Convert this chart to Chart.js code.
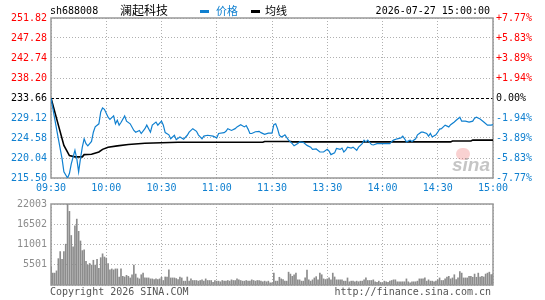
<!DOCTYPE html>
<html>
<head>
<meta charset="utf-8">
<script src="https://cdn.jsdelivr.net/npm/chart.js@4.4.1/dist/chart.umd.min.js"></script>
<style>
  body { margin: 0; background: #fff; width: 545px; height: 300px; overflow: hidden; position: relative;
         font-family: "DejaVu Sans Mono", monospace; font-size: 10px; }
  canvas { position: absolute; left: 0; }
  .t { position: absolute; white-space: nowrap; line-height: 12px; }
  .cjk { font-family: "Noto Sans CJK SC", sans-serif; }
</style>
</head>
<body>
<canvas id="price" width="545" height="196" style="top:0"></canvas>
<canvas id="vol" width="545" height="106" style="top:194px"></canvas>

<div class="t" style="left:50px;top:5px;color:#000">sh688008</div>
<div class="t cjk" style="left:120px;top:3px;font-size:12px;line-height:14px;color:#000">澜起科技</div>
<div class="t" style="left:200px;top:10px;width:9px;height:3px;background:#1080d0"></div>
<div class="t cjk" style="left:216px;top:4px;font-size:11px;line-height:13px;color:#1080d0">价格</div>
<div class="t" style="left:251px;top:10px;width:9px;height:3px;background:#000"></div>
<div class="t cjk" style="left:265px;top:4px;font-size:11px;line-height:13px;color:#000">均线</div>
<div class="t" style="right:55px;top:5px;color:#000">2026-07-27 15:00:00</div>

<div class="t" style="left:456px;top:148px;width:14px;height:12px;border-radius:7px;background:rgba(235,90,90,0.28)"></div>
<div class="t" style="left:452px;top:155px;font:italic bold 19px 'Liberation Sans',sans-serif;line-height:20px;color:rgba(150,150,150,0.55)">sina</div>

<div class="t" style="left:50px;top:286px;color:#555">Copyright 2026 SINA.COM</div>
<div class="t" style="right:54px;top:286px;color:#555">http://finance.sina.com.cn</div>

<script>
// axis labels
const timeTicks = [0, 30, 60, 90, 120, 150, 180, 210, 240];
const timeLabels = ['09:30', '10:00', '10:30', '11:00', '11:30', '13:30', '14:00', '14:30', '15:00'];
const priceTicks = [215.50, 220.04, 224.58, 229.12, 233.66, 238.20, 242.74, 247.28, 251.82];
const pctLabels = ['-7.77%', '-5.83%', '-3.89%', '-1.94%', '0.00%', '+1.94%', '+3.89%', '+5.83%', '+7.77%'];
const prevClose = 233.66;
const volTicks = [0, 5501, 11001, 16502, 22003];

// price line (minute index from 09:30, price)
const priceMinutes = [0,2,4,6,7,9,10,11,13,14,15,16,17,18,19,20,22,23,24,26,27,28,29,31,32,34,35,36,37,38,
  40,41,43,45,46,48,49,51,52,54,55,57,58,60,61,62,64,65,67,68,70,72,74,75,77,79,80,82,83,85,
  88,90,91,94,95,96,98,100,101,103,105,106,107,108,109,111,113,114,116,118,120,121,122,123,124,125,126,127,129,130,
  131,132,134,135,137,139,141,142,144,146,148,150,151,152,154,155,157,158,159,160,161,163,164,166,167,169,170,171,172,174,
  175,177,180,182,184,185,186,188,190,191,192,193,195,196,198,199,201,202,204,205,206,207,209,210,211,212,214,216,217,219,
  220,222,223,225,227,229,230,231,233,235,237,239,240];
const priceValues = [233.66,228.96,224.4,219.9,216.9,215.5,216.5,218.7,221.8,219.9,216.9,219.9,222.5,224.4,223.3,222.8,223.8,225.9,227.1,227.8,230.5,231.4,231.1,229.3,228.8,229.6,227.8,228.6,227.5,228.1,
  229.6,228.4,227.8,226.3,225.9,226.3,225.6,226.7,227.5,225.9,227.5,228.2,227.5,228.4,227.5,225.8,225.3,224.4,225.2,224.2,224.8,224.3,225.2,225.9,226.7,226.1,225.3,224.4,225.0,225.2,
  225.0,224.6,225.6,225.8,226.1,226.7,226.3,226.7,227.1,227.6,227.1,227.4,226.6,225.6,225.6,226.0,226.1,225.8,225.4,225.7,225.7,227.6,227.8,226.7,225.2,224.8,225.0,225.3,224.1,223.7,
  223.3,222.8,223.3,223.7,223.6,222.9,222.5,222.0,222.1,221.4,221.4,222.0,221.6,220.8,221.2,222.2,222.0,222.3,221.4,221.8,222.5,222.3,222.5,221.8,222.5,223.3,224.1,223.7,224.1,223.1,
  223.0,223.3,223.3,223.3,223.3,223.8,224.1,224.4,224.6,225.0,224.4,223.7,224.1,223.8,224.4,225.3,225.9,225.9,225.6,225.0,225.6,224.8,225.3,225.9,226.6,226.7,227.5,227.1,227.6,228.2,
  228.6,229.3,228.4,228.4,228.2,228.4,229.1,229.3,228.9,228.2,227.5,227.5,227.6];

// average line
const avgMinutes = [0,4,7,10,13,17,18,22,26,28,31,36,42,51,69,115,116,130,131,217,218,228,229,240];
const avgValues = [233.66,227.5,222.9,220.6,220.3,220.3,220.8,220.9,221.4,222.0,222.5,222.8,223.1,223.4,223.6,223.6,223.8,223.8,223.7,223.7,223.9,223.9,224.1,224.1];

// volume per minute
const volumes = [
  4970,3230,3230,3840,7160,9080,6990,9080,11090,22003,
  20000,13450,10390,16070,17900,14580,11960,9340,9520,6460,
  5410,5850,5410,6720,5410,6990,4540,7420,8470,7600,
  7330,5850,4100,4370,4100,4370,4370,2180,4370,2360,
  2180,2620,2360,1920,2790,5410,2970,1920,1660,2790,
  3230,1920,1920,1920,1660,1660,1480,1660,1480,1660,
  2100,1220,2180,2180,4100,1920,1920,1920,1750,1480,
  2180,1920,1050,1050,2180,1050,1660,1220,1220,1220,
  1050,1220,1400,1050,1660,1220,1220,1220,700,1220,
  1050,1050,870,1220,1050,1050,1220,1050,1400,1220,
  1220,1660,1400,1220,1050,1050,1220,1050,1050,1400,
  1220,1050,1220,1220,1050,870,1050,870,1050,610,
  610,3230,1050,1050,2100,1660,1480,1050,1050,3490,
  2970,2360,2790,3230,1400,1400,1050,1050,1920,4020,
  1400,1050,1400,1920,2270,1400,3230,2790,1660,1480,
  1660,1920,1400,3230,2180,1400,1400,1400,1400,1050,
  1050,1920,870,1050,1050,870,1050,870,1050,1050,
  1400,1920,1220,1220,1220,1400,870,700,1050,700,
  610,1050,870,700,1050,1220,1400,1400,870,870,
  870,870,870,1660,870,610,870,870,870,1050,
  1660,1660,1660,1920,1050,1400,1050,1050,870,1050,
  1400,1920,1220,1220,1660,2180,2360,1660,1920,2790,
  1480,1920,3670,3230,1920,1920,1920,2360,2360,2100,
  2970,2100,3230,2180,2360,2180,2970,3230,3490,2800,
  3000
];

const RED = '#ff0000';
const BLUE = '#1080d0';
const GRID = '#b0b0b0';
const FONT = { family: '"DejaVu Sans Mono", monospace', size: 10 };

function tickColor(ctx) {
  const v = ctx.tick ? ctx.tick.value : prevClose;
  if (v > prevClose) return RED;
  if (v < prevClose) return BLUE;
  return '#000';
}

/** Grey frame round the plot area */
const frame = {
  id: 'frame',
  beforeDatasetsDraw(chart) {
    const { ctx, chartArea: a } = chart;
    ctx.save();
    ctx.strokeStyle = '#999';
    ctx.lineWidth = 1.5;
    ctx.strokeRect(a.left, a.top, a.right - a.left, a.bottom - a.top);
    ctx.restore();
  }
};

const timeAxis = (showLabels, height) => ({
  type: 'linear',
  min: 0,
  max: 240,
  offset: false,
  afterBuildTicks: s => { s.ticks = timeTicks.map(v => ({ value: v })); },
  afterFit: s => { s.height = height; },
  ticks: {
    display: showLabels,
    autoSkip: false,
    maxRotation: 0,
    padding: 4,
    color: BLUE,
    font: FONT,
    callback: (v, i) => timeLabels[i]
  },
  grid: { color: GRID, drawTicks: false, offset: false },
  border: { display: false, dash: [1, 2] }
});

new Chart(document.getElementById('price'), {
  type: 'line',
  data: {
    datasets: [
      {
        label: '价格',
        data: priceMinutes.map((m, i) => ({ x: m, y: priceValues[i] })),
        borderColor: BLUE,
        borderWidth: 1.2,
        pointRadius: 0,
        tension: 0
      },
      {
        label: '均线',
        data: avgMinutes.map((m, i) => ({ x: m, y: avgValues[i] })),
        borderColor: '#000',
        borderWidth: 1.6,
        pointRadius: 0,
        tension: 0
      }
    ]
  },
  options: {
    responsive: false,
    animation: false,
    layout: { padding: { top: 18, left: 0, right: 0, bottom: 0 } },
    scales: {
      x: timeAxis(true, 18),
      y: {
        position: 'left',
        min: 215.50,
        max: 251.82,
        afterBuildTicks: s => { s.ticks = priceTicks.map(v => ({ value: v })); },
        afterFit: s => { s.width = 51; },
        ticks: { padding: 4, color: tickColor, font: FONT, callback: v => v.toFixed(2) },
        grid: { color: c => (c.tick && c.tick.value === prevClose ? '#000' : GRID), drawTicks: false },
        border: { display: false, dash: c => (c.tick && c.tick.value === prevClose ? [3, 2] : [1, 2]) }
      },
      y2: {
        position: 'right',
        min: 215.50,
        max: 251.82,
        afterBuildTicks: s => { s.ticks = priceTicks.map(v => ({ value: v })); },
        afterFit: s => { s.width = 52; },
        ticks: { padding: 3, color: tickColor, font: FONT, callback: (v, i) => pctLabels[i] },
        grid: { drawOnChartArea: false, drawTicks: false },
        border: { display: false }
      }
    },
    plugins: { legend: { display: false }, tooltip: { enabled: false } }
  },
  plugins: [frame]
});

new Chart(document.getElementById('vol'), {
  type: 'bar',
  data: {
    datasets: [{
      label: 'volume',
      data: volumes.map((v, i) => ({ x: i, y: v })),
      backgroundColor: '#8c8c8c',
      barThickness: 1
    }]
  },
  options: {
    responsive: false,
    animation: false,
    layout: { padding: { top: 7, left: 0, right: 52, bottom: 0 } },
    scales: {
      x: timeAxis(false, 15),
      y: {
        position: 'left',
        min: 0,
        max: 22003,
        afterBuildTicks: s => { s.ticks = volTicks.map(v => ({ value: v })); },
        afterFit: s => { s.width = 51; },
        ticks: { padding: 4, color: '#8c8c8c', font: FONT, callback: v => (v === 0 ? '' : String(v)) },
        grid: { color: GRID, drawTicks: false },
        border: { display: false, dash: [1, 2] }
      }
    },
    plugins: { legend: { display: false }, tooltip: { enabled: false } }
  },
  plugins: [frame]
});
</script>
</body>
</html>
